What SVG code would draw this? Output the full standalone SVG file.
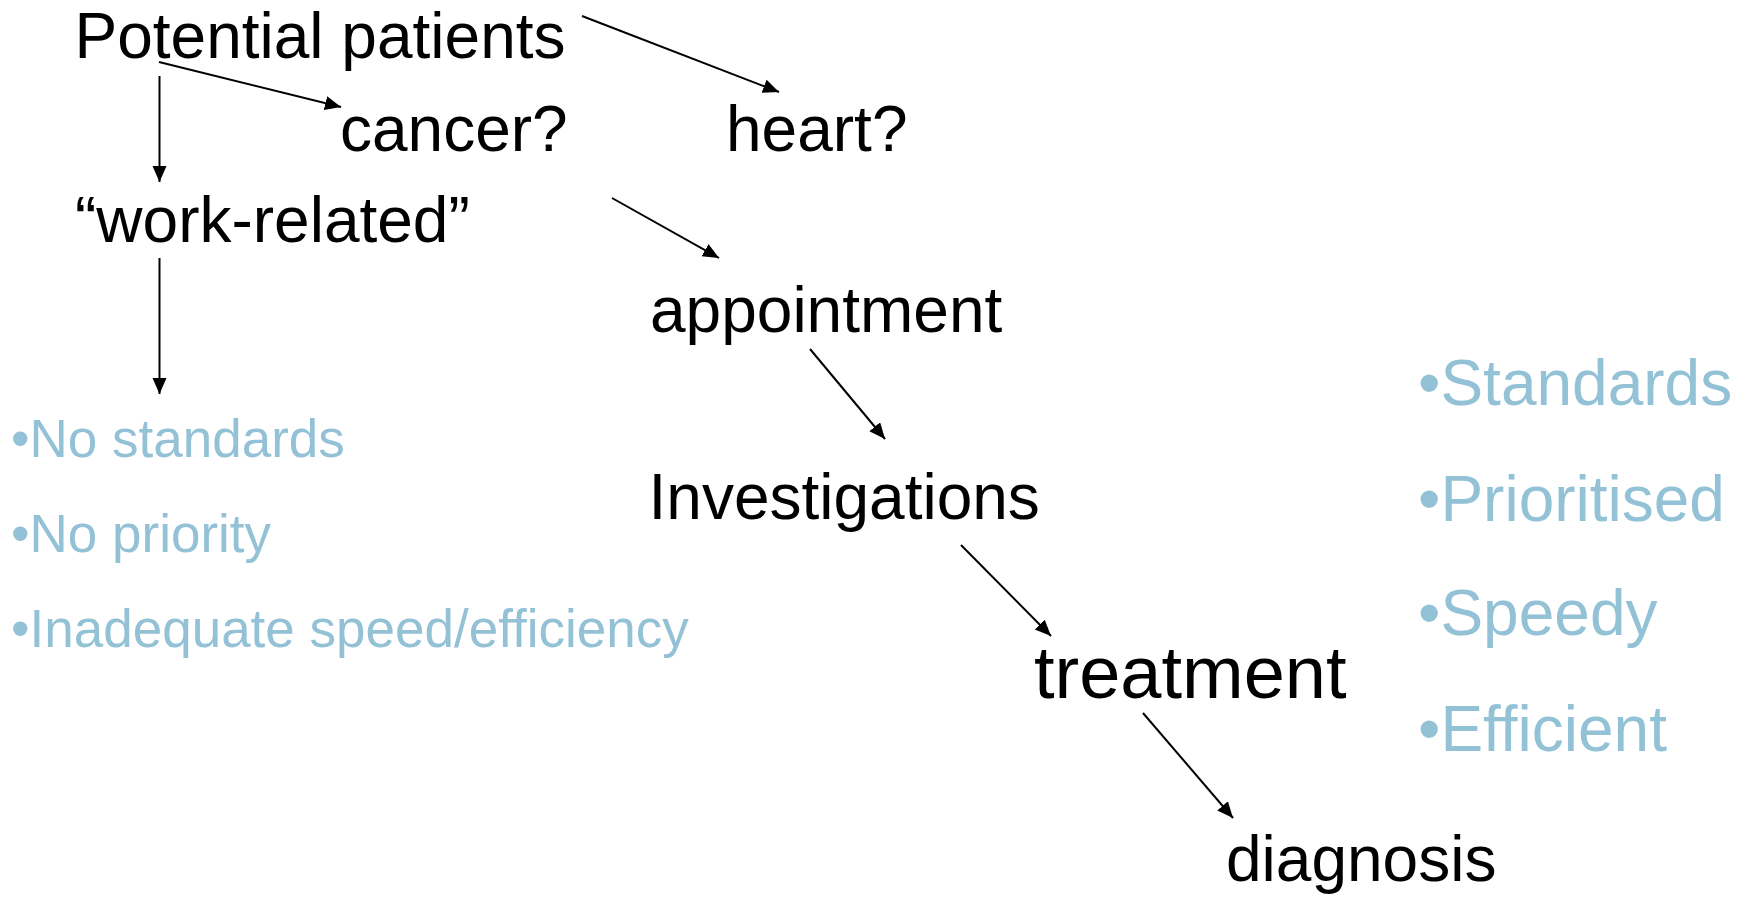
<svg xmlns="http://www.w3.org/2000/svg" width="1749" height="899" viewBox="0 0 1749 899">
<style>
.t{font-family:"Liberation Sans",Arial,sans-serif;fill:#000;font-size:64px}
.b{font-family:"Liberation Sans",Arial,sans-serif;fill:#93C1D6}
.c{stroke:#000;stroke-width:2;fill:none;marker-end:url(#ah)}
</style>
<defs>
<marker id="ah" markerUnits="userSpaceOnUse" markerWidth="17" markerHeight="15" refX="16" refY="7" orient="auto">
<path d="M0,0 L16,7 L0,14 z" fill="#000"/>
</marker>
</defs>
<rect width="1749" height="899" fill="#fff"/>
<g id="connectors">
<line class="c" x1="582" y1="16" x2="779" y2="92"/>
<line class="c" x1="159" y1="62" x2="341" y2="107"/>
<line class="c" x1="159.5" y1="76" x2="159.5" y2="182"/>
<line class="c" x1="159.5" y1="258" x2="159.5" y2="394"/>
<line class="c" x1="612" y1="198" x2="719" y2="258"/>
<line class="c" x1="810" y1="349" x2="885" y2="439"/>
<line class="c" x1="961" y1="545" x2="1051" y2="636"/>
<line class="c" x1="1143" y1="713" x2="1233" y2="818"/>
</g>
<g id="potential-patients"><text class="t" x="74.5" y="58">Potential patients</text></g>
<g id="cancer"><text class="t" x="340" y="151">cancer?</text></g>
<g id="heart"><text class="t" x="726" y="151">heart?</text></g>
<g id="work-related"><text class="t" x="75" y="242">“work-related”</text></g>
<g id="appointment"><text class="t" x="650" y="332">appointment</text></g>
<g id="investigations"><text class="t" x="648.5" y="519">Investigations</text></g>
<g id="treatment"><text class="t" x="1034" y="698" style="font-size:74px">treatment</text></g>
<g id="diagnosis"><text class="t" x="1226" y="881">diagnosis</text></g>
<g id="left-list" class="b" font-size="53">
<text x="11" y="457">•No standards</text>
<text x="11" y="552">•No priority</text>
<text x="11" y="647">•Inadequate speed/efficiency</text>
</g>
<g id="right-list" class="b" font-size="64">
<text x="1418" y="405">•Standards</text>
<text x="1418" y="521">•Prioritised</text>
<text x="1418" y="635">•Speedy</text>
<text x="1418" y="751">•Efficient</text>
</g>
</svg>
